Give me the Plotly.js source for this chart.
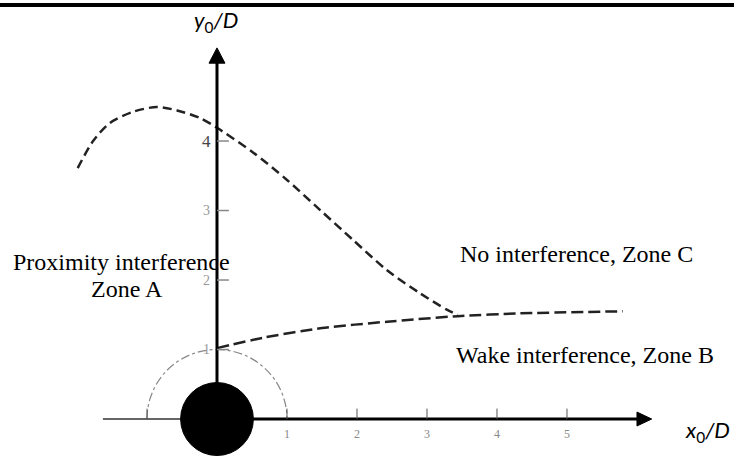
<!DOCTYPE html>
<html>
<head>
<meta charset="utf-8">
<script src="https://cdn.plot.ly/plotly-3.0.1.min.js"></script>
<style>html,body{margin:0;padding:0;background:#fff;}#chart{width:734px;height:456px;}</style>
</head>
<body>
<div id="chart"></div>
<script>
// Boundary between proximity zone (A) and no-interference zone (C)
const upperX = [-1.99, -1.77, -1.53, -1.2, -0.86, -0.57, -0.24, 0, 0.51, 1.0, 1.47, 1.94, 2.43, 2.9, 3.29, 3.44];
const upperY = [3.61, 4.0, 4.26, 4.42, 4.49, 4.44, 4.33, 4.19, 3.84, 3.44, 3.01, 2.58, 2.14, 1.81, 1.57, 1.50];
// Boundary between wake zone (B) and the other zones
const lowerX = [0, 0.66, 1.5, 2.43, 3.44, 4.33, 5.8];
const lowerY = [1.02, 1.17, 1.31, 1.40, 1.48, 1.52, 1.55];
// Axis ticks and labels
const xTickMarks = [-1, 1, 2, 3, 4, 5];
const xTickLabels = ["1", "2", "3", "4", "5"];
const xTickLabelVals = [1, 2, 3, 4, 5];
const yTickVals = [1, 2, 3, 4];
const yTickLabels = ["1", "2", "3", "4"];
// Zone labels
const zoneTexts = ["Proximity interference", "Zone A", "No interference, Zone C", "Wake interference, Zone B"];
const zoneX = [-1.37, -1.29, 5.13, 5.26];
const zoneY = [2.26, 1.87, 2.37, 0.92];

const X_MIN = -3.1, X_MAX = 7.386, Y_MIN = -0.532, Y_MAX = 6.029;

const traces = [
  {x: upperX, y: upperY, mode: 'lines', line: {color: '#222', width: 2.5, dash: '9px,5px', shape: 'spline', smoothing: 0.8}, hoverinfo: 'skip'},
  {x: lowerX, y: lowerY, mode: 'lines', line: {color: '#222', width: 2.5, dash: '12px,5px', shape: 'spline', smoothing: 0.6}, hoverinfo: 'skip'}
];

const shapes = [];
// top rule
shapes.push({type: 'line', xref: 'paper', yref: 'paper', x0: 0, x1: 1, y0: 1 - 5/456, y1: 1 - 5/456, line: {color: '#000', width: 4}});
// dashed half circle of radius 1 (bezier quarter arcs)
const k = 0.5523;
shapes.push({type: 'path', xref: 'x', yref: 'y', layer: 'below',
  path: `M -1,0 C -1,${k} -${k},1 0,1 C ${k},1 1,${k} 1,0`,
  line: {color: '#888', width: 1.2, dash: 'dashdot'}});
// x-axis
shapes.push({type: 'line', xref: 'x', yref: 'y', x0: -1.63, x1: 0, y0: 0, y1: 0, line: {color: '#333', width: 1.5}});
shapes.push({type: 'line', xref: 'x', yref: 'y', x0: 0, x1: 6.02, y0: 0, y1: 0, line: {color: '#000', width: 3}});
shapes.push({type: 'path', xref: 'x', yref: 'y', path: 'M 6.0,-0.1 L 6.21,0 L 6.0,0.1 Z', fillcolor: '#000', line: {color: '#000', width: 1}});
// y-axis
shapes.push({type: 'line', xref: 'x', yref: 'y', x0: 0, x1: 0, y0: 0, y1: 5.14, line: {color: '#000', width: 3}});
shapes.push({type: 'path', xref: 'x', yref: 'y', path: 'M -0.114,5.12 L 0,5.34 L 0.114,5.12 Z', fillcolor: '#000', line: {color: '#000', width: 1}});
// x ticks
xTickMarks.forEach(v => shapes.push({type: 'line', xref: 'x', yref: 'y', x0: v, x1: v, y0: 0, y1: 0.15, line: {color: '#555', width: 1}}));
// y ticks
yTickVals.forEach(v => shapes.push({type: 'line', xref: 'x', yref: 'y', x0: 0, x1: 0.17, y0: v, y1: v, line: {color: '#888', width: 1.5}}));
// cylinder
shapes.push({type: 'circle', xref: 'x', yref: 'y', x0: -0.52, x1: 0.52, y0: -0.525, y1: 0.525, fillcolor: '#000', line: {color: '#000', width: 1}});

const annotations = [];
xTickLabelVals.forEach((v, i) => annotations.push({x: v, y: -0.21, xref: 'x', yref: 'y', text: xTickLabels[i], showarrow: false,
  font: {family: 'Liberation Serif', size: 12, color: '#888'}, xanchor: 'center', yanchor: 'middle'}));
yTickVals.forEach((v, i) => annotations.push({x: -0.15, y: v, xref: 'x', yref: 'y', text: yTickLabels[i], showarrow: false,
  font: {family: 'Liberation Serif', size: i === 3 ? 17 : 14, color: i === 3 ? '#444' : '#999'}, xanchor: 'center', yanchor: 'middle'}));
zoneTexts.forEach((t, i) => annotations.push({x: zoneX[i], y: zoneY[i], xref: 'x', yref: 'y', text: t, showarrow: false,
  font: {family: 'Liberation Serif', size: 24, color: '#000'}, xanchor: 'center', yanchor: 'middle'}));
annotations.push({x: -0.014, y: 5.73, xref: 'x', yref: 'y', text: '<i>y</i><sub>0</sub><i>/D</i>', showarrow: false,
  font: {family: 'Lato', size: 22, color: '#000'}, xanchor: 'center', yanchor: 'middle'});
annotations.push({x: 7.01, y: -0.17, xref: 'x', yref: 'y', text: '<i>x</i><sub>0</sub><i>/D</i>', showarrow: false,
  font: {family: 'Lato', size: 22, color: '#000'}, xanchor: 'center', yanchor: 'middle'});

const layout = {
  width: 734, height: 456,
  margin: {l: 0, r: 0, t: 0, b: 0},
  paper_bgcolor: '#fff', plot_bgcolor: '#fff',
  showlegend: false,
  xaxis: {range: [X_MIN, X_MAX], visible: false, fixedrange: true},
  yaxis: {range: [Y_MIN, Y_MAX], visible: false, fixedrange: true},
  shapes: shapes,
  annotations: annotations
};

Plotly.newPlot('chart', traces, layout, {staticPlot: true, displayModeBar: false});
</script>
</body>
</html>
